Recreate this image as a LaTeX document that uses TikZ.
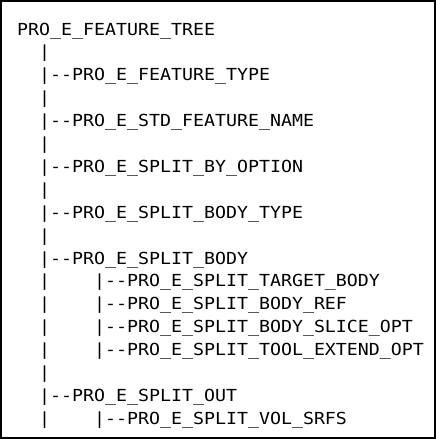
\documentclass[tikz,border=0pt]{standalone}
\usepackage{fontspec}
\setmonofont{DejaVu Sans Mono}[FakeStretch=1.1]
\begin{document}
\begin{tikzpicture}[x=1pt,y=-1pt,
  treeline/.style={anchor=base west, inner sep=0pt, font=\ttfamily\fontsize{16.6}{20}\selectfont, text=black}]
\useasboundingbox (0,0) rectangle (436,439);
\draw[line width=2pt] (1,1) rectangle (434.5,438);
\def\dy{22.9}
\node[treeline] (l0)  at (17,35+0*\dy)  {PRO\_E\_FEATURE\_TREE};
\node[treeline] (l1)  at (17,35+1*\dy)  {~~|};
\node[treeline] (l2)  at (17,35+2*\dy)  {~~|--PRO\_E\_FEATURE\_TYPE};
\node[treeline] (l3)  at (17,35+3*\dy)  {~~|};
\node[treeline] (l4)  at (17,35+4*\dy)  {~~|--PRO\_E\_STD\_FEATURE\_NAME};
\node[treeline] (l5)  at (17,35+5*\dy)  {~~|};
\node[treeline] (l6)  at (17,35+6*\dy)  {~~|--PRO\_E\_SPLIT\_BY\_OPTION};
\node[treeline] (l7)  at (17,35+7*\dy)  {~~|};
\node[treeline] (l8)  at (17,35+8*\dy)  {~~|--PRO\_E\_SPLIT\_BODY\_TYPE};
\node[treeline] (l9)  at (17,35+9*\dy)  {~~|};
\node[treeline] (l10) at (17,35+10*\dy) {~~|--PRO\_E\_SPLIT\_BODY};
\node[treeline] (l11) at (17,35+11*\dy) {~~|~~~~|--PRO\_E\_SPLIT\_TARGET\_BODY};
\node[treeline] (l12) at (17,35+12*\dy) {~~|~~~~|--PRO\_E\_SPLIT\_BODY\_REF};
\node[treeline] (l13) at (17,35+13*\dy) {~~|~~~~|--PRO\_E\_SPLIT\_BODY\_SLICE\_OPT};
\node[treeline] (l14) at (17,35+14*\dy) {~~|~~~~|--PRO\_E\_SPLIT\_TOOL\_EXTEND\_OPT};
\node[treeline] (l15) at (17,35+15*\dy) {~~|};
\node[treeline] (l16) at (17,35+16*\dy) {~~|--PRO\_E\_SPLIT\_OUT};
\node[treeline] (l17) at (17,35+17*\dy) {~~|~~~~|--PRO\_E\_SPLIT\_VOL\_SRFS};
\end{tikzpicture}
\end{document}
